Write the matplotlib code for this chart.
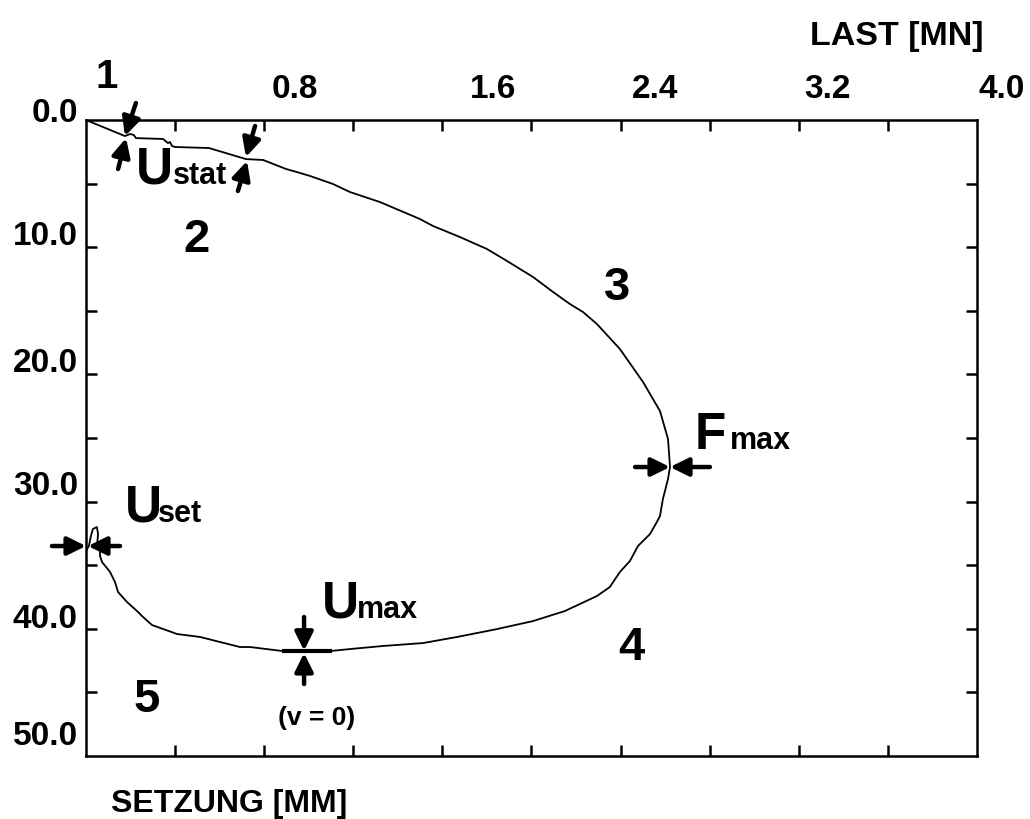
import numpy as np
import matplotlib
matplotlib.use("Agg")
from matplotlib import pyplot as plt

plt.rcParams['font.family'] = ['Liberation Sans', 'DejaVu Sans']
plt.rcParams['font.weight'] = 'bold'

# load [MN] and settlement [mm]
last = [0.000, 0.175, 0.198, 0.215, 0.224, 0.346, 0.368, 0.377, 0.386, 0.400,
        0.552, 0.718, 0.795, 0.898, 0.947, 1.006, 1.109, 1.185, 1.320, 1.499,
        1.558, 1.679, 1.800, 1.890, 2.007, 2.097, 2.173, 2.231, 2.294, 2.397,
        2.501, 2.577, 2.613, 2.622, 2.613, 2.590, 2.577, 2.563, 2.532, 2.478,
        2.442, 2.397, 2.352, 2.294, 2.150, 2.007, 1.845, 1.666, 1.513, 1.333,
        1.185, 1.095, 0.974, 0.884, 0.736, 0.691, 0.512, 0.409, 0.296, 0.256,
        0.229, 0.184, 0.144, 0.130, 0.108, 0.072, 0.063, 0.063, 0.049, 0.054,
        0.049, 0.031, 0.022, 0.013, 0.004]
setzung = [0.00, 1.26, 1.10, 1.18, 1.42, 1.49, 1.81, 1.73, 2.04, 2.12,
           2.20, 3.07, 3.14, 3.85, 4.09, 4.40, 5.03, 5.66, 6.45, 7.78,
           8.33, 9.20, 10.14, 11.08, 12.34, 13.52, 14.47, 15.09, 16.04, 18.00,
           20.60, 22.88, 25.08, 27.28, 28.22, 29.80, 31.13, 31.60, 32.55, 33.49,
           34.67, 35.53, 36.71, 37.42, 38.60, 39.39, 40.02, 40.64, 41.12, 41.35,
           41.59, 41.75, 41.82, 41.75, 41.43, 41.43, 40.64, 40.41, 39.70, 39.07,
           38.60, 37.89, 37.11, 36.32, 35.53, 34.75, 34.28, 33.88, 33.57, 32.55,
           32.00, 32.15, 32.70, 33.49, 33.73]

x_labels = ['0.8', '1.6', '2.4', '3.2', '4.0']
y_labels = ['0.0', '10.0', '20.0', '30.0', '40.0', '50.0']

# where the scanned labels actually sit (they are shifted from the ticks)
x_label_pos = [0.938, 1.827, 2.554, 3.331, 4.112]
y_label_pos = [-0.63, 9.04, 19.1, 28.7, 39.15, 48.4]

fig = plt.figure(figsize=(10.3, 8.2), dpi=100)
ax = fig.add_axes([0.0835, 0.0768, 0.8650, 0.7756])

ax.plot(last, setzung, color='black', lw=1.3)

ax.set_xlim(0, 4.0)
ax.set_ylim(50, 0)
ax.set_xticks(np.arange(0.4, 4.0, 0.4))
ax.set_yticks(np.arange(5, 50, 5))
ax.tick_params(direction='in', length=8, width=1.8, top=True, right=True,
               labelleft=False, labelbottom=False)
for s in ax.spines.values():
    s.set_linewidth(1.8)

for xp, t in zip(x_label_pos, x_labels):
    ax.text(xp, -2.45, t, ha='center', va='center', fontsize=24,
            fontweight='bold', clip_on=False)
for yp, t in zip(y_label_pos, y_labels):
    ax.text(-0.036, yp, t, ha='right', va='center', fontsize=24,
            fontweight='bold', clip_on=False)

fig.text(897 / 1030, 1 - 36 / 820, 'LAST [MN]', ha='center', va='center',
         fontsize=24.5, fontweight='bold')
fig.text(229 / 1030, 1 - 804 / 820, 'SETZUNG [MM]', ha='center', va='center',
         fontsize=23, fontweight='bold')

# phase numbers
for t, xp, yp, fs in [('1', 0.094, -3.46, 29), ('2', 0.498, 9.36, 34),
                      ('3', 2.384, 13.13, 34), ('4', 2.447, 41.43, 34),
                      ('5', 0.274, 45.52, 34)]:
    ax.text(xp, yp, t, ha='center', va='center', fontsize=fs,
            fontweight='bold', clip_on=False)

# U / F labels with small suffix
for big, small, xb, xs, yb in [('U', 'stat', 0.224, 0.391, 4.95),
                                ('U', 'set', 0.175, 0.323, 31.5),
                                ('U', 'max', 1.059, 1.216, 39.06),
                                ('F', 'max', 2.734, 2.891, 25.79)]:
    ax.text(xb, yb, big, ha='left', va='baseline', fontsize=37,
            fontweight='bold')
    ax.text(xs, yb, small, ha='left', va='baseline', fontsize=22,
            fontweight='bold')

ax.text(1.037, 46.93, '(v = 0)', ha='center', va='center', fontsize=19,
        fontweight='bold')

arrow = dict(arrowstyle='-|>,head_length=0.85,head_width=0.42', lw=3.2,
             color='black', mutation_scale=13, shrinkA=0, shrinkB=0)
arrows = [
    ((0.224, -1.34), (0.175, 1.26)), ((0.144, 3.85), (0.180, 1.42)),
    ((0.759, 0.47), (0.718, 2.91)), ((0.682, 5.58), (0.723, 3.22)),
    ((2.465, 27.28), (2.622, 27.28)), ((2.801, 27.28), (2.622, 27.28)),
    ((0.979, 39.07), (0.979, 41.72)), ((0.979, 44.34), (0.979, 41.9)),
    ((-0.153, 33.49), (0.0, 33.49)), ((0.153, 33.49), (0.009, 33.49)),
]
for tail, tip in arrows:
    ax.annotate('', xy=tip, xytext=tail, arrowprops=arrow,
                annotation_clip=False)

# bar at the bottom of the loop
ax.plot([0.880, 1.104], [41.75, 41.75], color='black', lw=3.0,
        solid_capstyle='butt')

fig.savefig('out.png', dpi=100)
